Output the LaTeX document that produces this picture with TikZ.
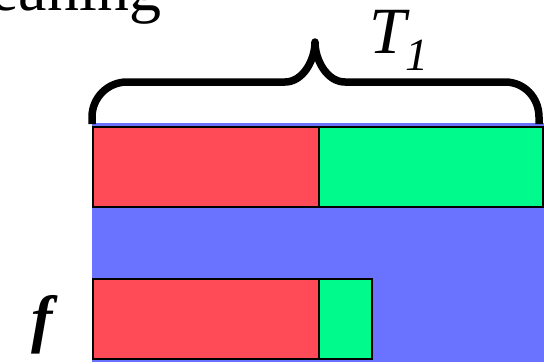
\documentclass[tikz,border=0pt]{standalone}
\usepackage{fontspec}
\setmainfont{Liberation Serif}
\definecolor{bgblue}{RGB}{106,115,255}
\definecolor{barred}{RGB}{255,74,88}
\definecolor{bargreen}{RGB}{0,250,140}
\tikzset{
  bar/.style={draw=black, line width=1.5pt},
  brace/.style={draw=black, line width=7.5pt, line join=round},
  label/.style={inner sep=0pt, outer sep=0pt}
}
\begin{document}
\begin{tikzpicture}[x=1pt,y=-1pt]
\useasboundingbox (0,0) rectangle (544,364);
\clip (0,0) rectangle (544,364);
% background
\fill[bgblue] (92,123) rectangle (544,362);
% bars
\filldraw[bar, fill=barred] (93,127) rectangle (319,207);
\filldraw[bar, fill=bargreen] (319,127) rectangle (543,207);
\filldraw[bar, fill=barred] (93,279) rectangle (319,359);
\filldraw[bar, fill=bargreen] (319,279) rectangle (372,359);
% brace
\draw[brace] (92,124) -- (92,117) .. controls (92,97.7) and (107.7,82) .. (127,82)
  -- (285,82) .. controls (303,82) and (315,60) .. (315,42)
  .. controls (315,60) and (327,82) .. (345,82)
  -- (505,82) .. controls (524.3,82) and (539,97.7) .. (539,117) -- (539,124);
% texts
\node[label, anchor=base east] (title) at (161,10) {\fontsize{64}{64}\selectfont Meaning};
\node[label, anchor=base west] (tlabel) at (369,53) {\fontsize{66}{66}\selectfont\itshape T\raisebox{-17pt}{\fontsize{46}{46}\selectfont 1}};
\node[label, anchor=base] (flabel) at (42,340) {\fontsize{64}{64}\selectfont\bfseries\itshape f};
\end{tikzpicture}
\end{document}
